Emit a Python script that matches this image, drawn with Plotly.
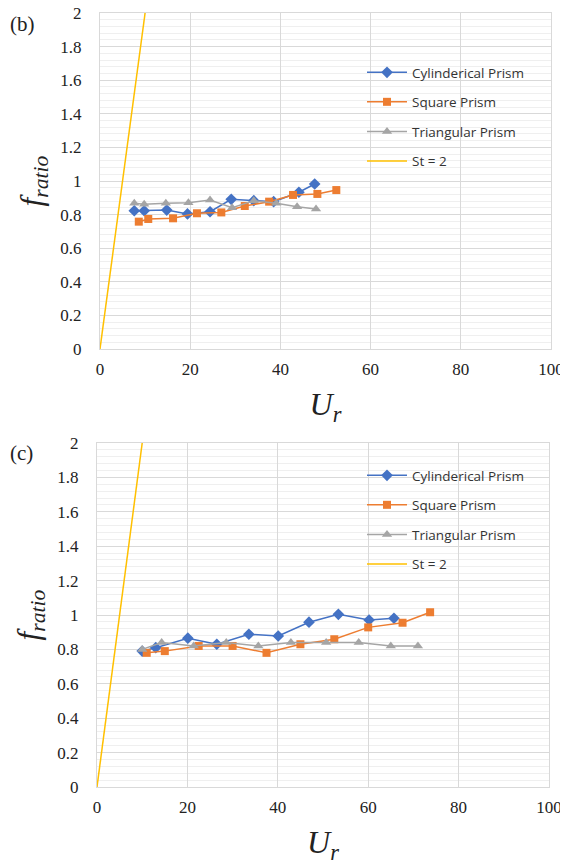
import plotly.graph_objects as go

# ---- Data: panel (b) ----
b_cyl_x = [7.6, 9.8, 14.8, 19.4, 24.4, 29.1, 34.1, 38.5, 44.1, 47.6]
b_cyl_y = [0.823, 0.823, 0.827, 0.804, 0.817, 0.891, 0.883, 0.877, 0.933, 0.982]
b_sq_x = [8.6, 10.7, 16.2, 21.5, 26.9, 32.1, 37.5, 42.8, 48.2, 52.4]
b_sq_y = [0.758, 0.774, 0.778, 0.808, 0.813, 0.851, 0.877, 0.917, 0.923, 0.946]
b_tri_x = [7.6, 9.8, 14.6, 19.6, 24.4, 29.3, 34.1, 39.1, 43.7, 47.9]
b_tri_y = [0.867, 0.861, 0.867, 0.871, 0.887, 0.841, 0.883, 0.867, 0.847, 0.833]

# ---- Data: panel (c) ----
c_cyl_x = [10.0, 13.0, 20.1, 26.5, 33.6, 40.1, 46.9, 53.4, 60.2, 65.7]
c_cyl_y = [0.79, 0.81, 0.865, 0.83, 0.888, 0.878, 0.958, 1.004, 0.971, 0.981]
c_sq_x = [11.0, 15.0, 22.5, 30.0, 37.5, 45.0, 52.5, 60.0, 67.6, 73.7]
c_sq_y = [0.78, 0.79, 0.82, 0.82, 0.78, 0.83, 0.859, 0.928, 0.955, 1.016]
c_tri_x = [10.0, 14.3, 21.4, 28.6, 35.7, 42.9, 50.7, 57.9, 65.0, 71.0]
c_tri_y = [0.80, 0.84, 0.82, 0.84, 0.82, 0.84, 0.84, 0.84, 0.82, 0.82]

st_x = [0, 10]
st_y = [0, 2]

x_ticks = [0, 20, 40, 60, 80, 100]
y_ticks = [0, 0.2, 0.4, 0.6, 0.8, 1, 1.2, 1.4, 1.6, 1.8, 2]

BLUE = "#4472C4"
ORANGE = "#ED7D31"
GRAY = "#A5A5A5"
YELLOW = "#FFC000"

# page body has an 8px margin; the figure is laid out in page pixels minus that offset
OFF = 8
W, H = 568 - OFF, 866 - OFF

def px_x(p):
    return (p - OFF) / W

def px_y(p):
    return 1 - (p - OFF) / H

fig = go.Figure()

def add_panel(xa, ya, legend, cx, cy, sx, sy, tx, ty):
    common = dict(xaxis=xa, yaxis=ya, legend=legend, mode="lines+markers")
    fig.add_trace(go.Scatter(x=cx, y=cy, name="Cylinderical Prism", legendgroup=legend + "a",
                             line=dict(color=BLUE, width=1.5),
                             marker=dict(symbol="diamond", size=9, color=BLUE), **common))
    fig.add_trace(go.Scatter(x=sx, y=sy, name="Square Prism", legendgroup=legend + "b",
                             line=dict(color=ORANGE, width=1.5),
                             marker=dict(symbol="square", size=8, color=ORANGE), **common))
    fig.add_trace(go.Scatter(x=tx, y=ty, name="Triangular Prism", legendgroup=legend + "c",
                             line=dict(color=GRAY, width=1.5),
                             marker=dict(symbol="triangle-up", size=9, color=GRAY), **common))
    fig.add_trace(go.Scatter(x=st_x, y=st_y, name="St = 2", legendgroup=legend + "d",
                             xaxis=xa, yaxis=ya, legend=legend, mode="lines",
                             line=dict(color=YELLOW, width=1.5)))

add_panel("x", "y", "legend", b_cyl_x, b_cyl_y, b_sq_x, b_sq_y, b_tri_x, b_tri_y)
add_panel("x2", "y2", "legend2", c_cyl_x, c_cyl_y, c_sq_x, c_sq_y, c_tri_x, c_tri_y)

serif = "Liberation Serif"
xaxis_style = dict(range=[0, 100], tickvals=x_ticks, showgrid=True, gridcolor="#d9d9d9",
                   gridwidth=1, zeroline=False, showline=True, linecolor="#d9d9d9", mirror=True,
                   tickfont=dict(family=serif, size=17, color="#222"), ticks="", automargin=False,
                   ticklabelstandoff=5, ticklabeloverflow="allow",
                   title=dict(text="<i>U</i><sub><i>r</i></sub>",
                              font=dict(family=serif, size=32, color="#222"), standoff=14))
yaxis_style = dict(range=[0, 2], tickvals=y_ticks, showgrid=True, gridcolor="#d9d9d9",
                   gridwidth=1, zeroline=False, showline=True, linecolor="#d9d9d9", mirror=True,
                   tickfont=dict(family=serif, size=17, color="#222"), ticks="", automargin=False,
                   ticklabelstandoff=14, ticklabeloverflow="allow",
                   minor=dict(dtick=0.04, showgrid=True, gridcolor="#efefef", gridwidth=1),
                   title=dict(text="<i>f</i><sub><i>ratio</i></sub>",
                              font=dict(family=serif, size=31, color="#222"), standoff=8))

legend_style = dict(font=dict(family="Open Sans", size=13.5, color="#333"), bgcolor="rgba(0,0,0,0)",
                    tracegroupgap=9, itemwidth=40, xanchor="left", yanchor="top")

fig.update_layout(
    width=W, height=H,
    margin=dict(l=0, r=0, t=0, b=0, autoexpand=False),
    paper_bgcolor="white", plot_bgcolor="white",
    xaxis=dict(domain=[px_x(100), px_x(551)], anchor="y", **xaxis_style),
    yaxis=dict(domain=[px_y(349), px_y(13)], anchor="x", **yaxis_style),
    xaxis2=dict(domain=[px_x(97), px_x(549)], anchor="y2", **xaxis_style),
    yaxis2=dict(domain=[px_y(787), px_y(443)], anchor="x2", **yaxis_style),
    legend=dict(x=px_x(362), y=px_y(57), **legend_style),
    legend2=dict(x=px_x(362), y=px_y(460), **legend_style),
    annotations=[
        dict(text="(b)", x=px_x(8), y=px_y(10), xref="paper", yref="paper", xanchor="left",
             yanchor="top", showarrow=False, font=dict(family=serif, size=21, color="#222")),
        dict(text="(c)", x=px_x(8), y=px_y(439), xref="paper", yref="paper", xanchor="left",
             yanchor="top", showarrow=False, font=dict(family=serif, size=21, color="#222")),
    ],
)

fig.write_html("out.html")
